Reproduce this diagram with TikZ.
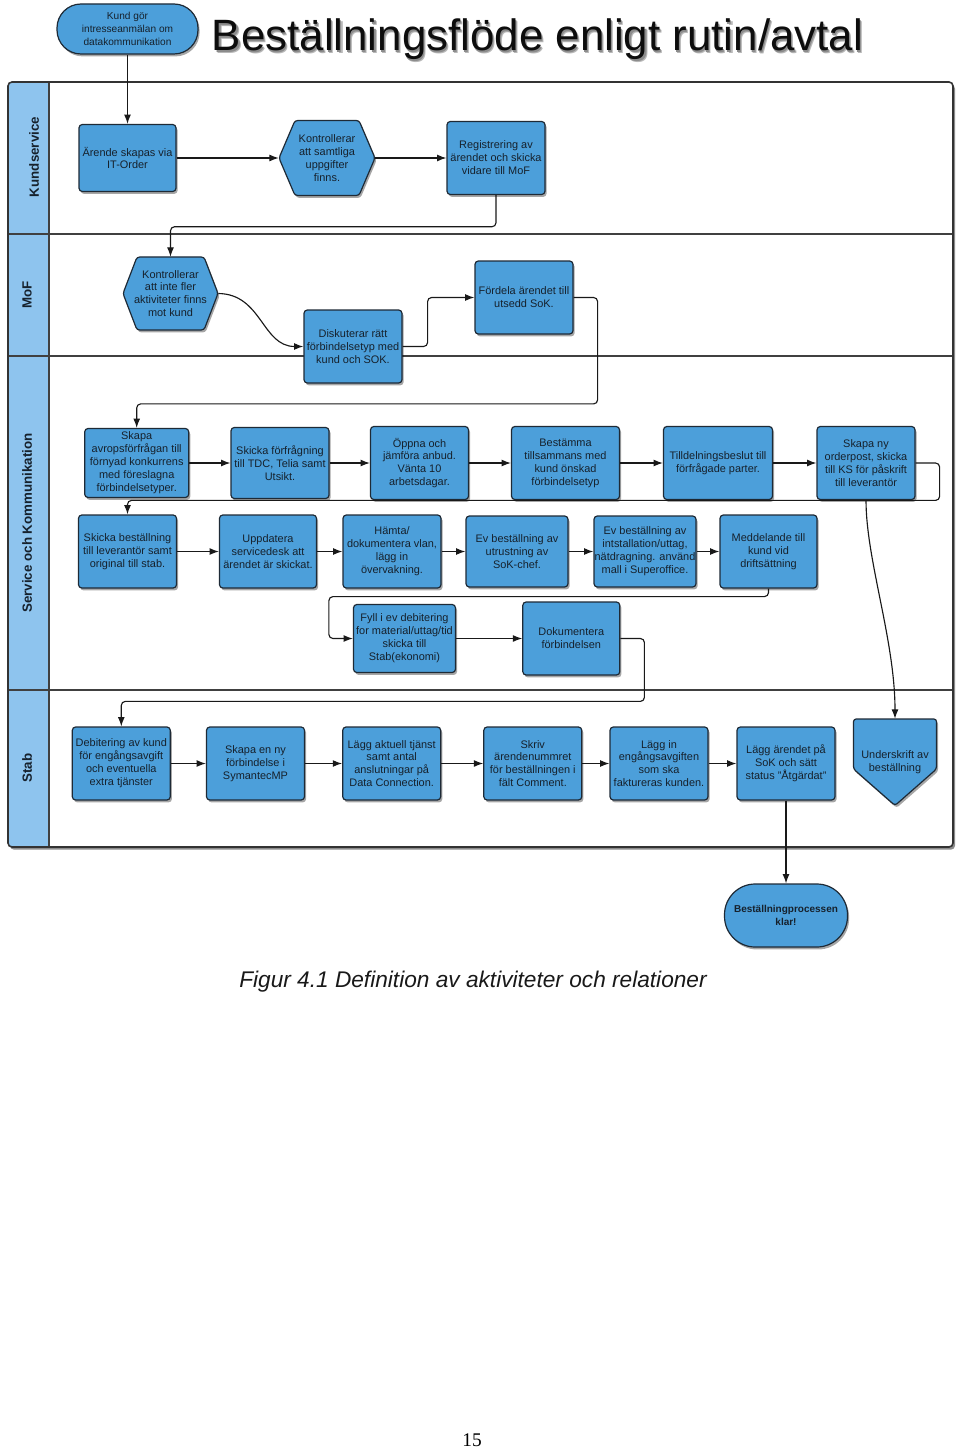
\documentclass[tikz,border=0pt]{standalone}
\usepackage{fontspec}
\setmainfont{Liberation Sans}
\newfontfamily\pgserif{Liberation Serif}
\usetikzlibrary{arrows.meta,shadows,calc}
\definecolor{boxblue}{HTML}{4C9FDA}
\definecolor{lanebl}{HTML}{8EC4EE}
\definecolor{bdr}{HTML}{1E2A36}
\definecolor{txt}{HTML}{16212C}
\newcommand{\bfnt}{\fontsize{8.2}{9.7}\selectfont}
\newcommand{\titletext}{Beställningsflöde enligt rutin/avtal}
\newcommand{\hexpath}[5]{%
  \path[hexsty] ({#1-#3/2},#2) -- ({#1-#3/2+#5},{#2-#4/2}) -- ({#1+#3/2-#5},{#2-#4/2}) -- ({#1+#3/2},#2) -- ({#1+#3/2-#5},{#2+#4/2}) -- ({#1-#3/2+#5},{#2+#4/2}) -- cycle;}
\begin{document}
\begin{tikzpicture}[x=0.75pt,y=-0.75pt,
  shd/.style={drop shadow={shadow xshift=1.2pt, shadow yshift=-1.8pt, opacity=0.35, fill=black}},
  sz/.style 2 args={minimum width=#1*0.75pt, minimum height=#2*0.75pt},
  proc/.style={draw=bdr, fill=boxblue, line width=0.9pt, rounded corners=2.5pt, inner sep=0pt, align=center, font=\bfnt, text=txt, sz={98}{73}, shd},
  hexsty/.style={draw=bdr, fill=boxblue, line width=0.9pt, rounded corners=2pt, shd},
  hexn/.style={inner sep=0pt, align=center, font=\bfnt, text=txt},
  term/.style={draw=bdr, fill=boxblue, line width=0.9pt, inner sep=0pt, align=center, text=txt, shd},
  arr/.style={-{Latex[length=7pt,width=5.2pt]}, line width=0.85pt, draw=black!90, rounded corners=3pt},
  lanelbl/.style={rotate=90, font=\bfseries\fontsize{10}{12}\selectfont, text=txt}]
\useasboundingbox (0,0) rectangle (960,1448);
\fill[white] (0,0) rectangle (960,1448);

% title with its soft shadow
\node[anchor=base, font=\fontsize{32.9}{38}\selectfont, text=black!95] (title) at (537.5,51)
  {\makebox[0pt][l]{\hspace{1.6pt}\raisebox{-2pt}{\color{black!28}\titletext}}\makebox[0pt][l]{\hspace{0.8pt}\raisebox{-1pt}{\color{black!45}\titletext}}\titletext};

% swimlane frame
\path[fill=white, rounded corners=3pt, drop shadow={shadow xshift=1.5pt, shadow yshift=-2pt, opacity=0.45, fill=black}] (8,82) rectangle (953,847);
\fill[lanebl, rounded corners=3pt] (8,82) rectangle (49,847);
\fill[lanebl] (30,82) rectangle (49,847);
\draw[black!75, line width=0.9pt] (49,82) -- (49,847);
\draw[black!75, line width=0.9pt] (8,234) -- (953,234);
\draw[black!75, line width=0.9pt] (8,356) -- (953,356);
\draw[black!75, line width=0.9pt] (8,690) -- (953,690);
\draw[black!80, line width=1.2pt, rounded corners=3pt] (8,82) rectangle (953,847);

\node[lanelbl] (lk) at (34,157) {Kundservice};
\node[lanelbl] (lm) at (27,295) {MoF};
\node[lanelbl] (ls) at (27,523) {Service och Kommunikation};
\node[lanelbl] (lst) at (27,768) {Stab};

% start
\node[term, sz={141}{50}, rounded corners=18pt, font=\fontsize{7.6}{9.7}\selectfont] (S) at (127.5,29) {Kund gör\\intresseanmälan om\\datakommunikation};

% Kundservice
\node[proc, sz={97}{67}] (A1) at (127.5,158) {Ärende skapas via\\IT-Order};
\hexpath{327}{158}{96}{75}{16}
\node[hexn, sz={96}{75}] (A2) at (327,158) {Kontrollerar\\att samtliga\\uppgifter\\finns.};
\node[proc] (A3) at (496,158) {Registrering av\\ärendet och skicka\\vidare till MoF};

% MoF
\hexpath{170.5}{293.5}{95}{73}{14}
\node[hexn, sz={95}{73}] (B1) at (170.5,293.5) {Kontrollerar\\att inte fler\\aktiviteter finns\\mot kund};
\node[proc] (B2) at (353,346.5) {Diskuterar rätt\\förbindelsetyp med\\kund och SOK.};
\node[proc] (B3) at (524,297.5) {Fördela ärendet till\\utsedd SoK.};

% Service row 1
\node[proc, sz={104}{69}] (C1) at (136.7,463) {Skapa\\avropsförfrågan till\\förnyad konkurrens\\med föreslagna\\förbindelsetyper.};
\node[proc, sz={98}{71}] (C2) at (280,463) {Skicka förfrågning\\till TDC, Telia samt\\Utsikt.};
\node[proc, sz={98}{73}] (C3) at (419.5,463) {Öppna och\\jämföra anbud.\\Vänta 10\\arbetsdagar.};
\node[proc, sz={108}{73}] (C4) at (565.5,463) {Bestämma\\tillsammans med\\kund önskad\\förbindelsetyp};
\node[proc, sz={109}{73}] (C5) at (718,463) {Tilldelningsbeslut till\\förfrågade parter.};
\node[proc] (C6) at (866,463) {Skapa ny\\orderpost, skicka\\till KS för påskrift\\till leverantör};

% Service row 2
\node[proc] (D1) at (127.5,551.5) {Skicka beställning\\till leverantör samt\\original till stab.};
\node[proc, sz={97}{73}] (D2) at (268,551.5) {Uppdatera\\servicedesk att\\ärendet är skickat.};
\node[proc] (D3) at (392,551.5) {Hämta/\\dokumentera vlan,\\lägg in\\övervakning.};
\node[proc, sz={102}{71}] (D4) at (517,551.5) {Ev beställning av\\utrustning av\\SoK-chef.};
\node[proc, sz={102}{71}] (D5) at (645,551.5) {Ev beställning av\\intstallation/uttag,\\nätdragning. använd\\mall i Superoffice.};
\node[proc, sz={97}{73}] (D6) at (768.5,551.5) {Meddelande till\\kund vid\\driftsättning};

% Service row 3
\node[proc, sz={102}{68}] (E1) at (404.5,638.5) {Fyll i ev debitering\\for material/uttag/tid\\skicka till\\Stab(ekonomi)};
\node[proc, sz={97}{73}] (E2) at (571.3,638.5) {Dokumentera\\förbindelsen};

% Stab
\node[proc] (F1) at (121.3,763.5) {Debitering av kund\\för engångsavgift\\och eventuella\\extra tjänster};
\node[proc] (F2) at (255.5,763.5) {Skapa en ny\\förbindelse i\\SymantecMP};
\node[proc] (F3) at (391.7,763.5) {Lägg aktuell tjänst\\samt antal\\anslutningar på\\Data Connection.};
\node[proc] (F4) at (532.8,763.5) {Skriv\\ärendenummret\\för beställningen i\\fält Comment.};
\node[proc] (F5) at (659,763.5) {Lägg in\\engångsavgiften\\som ska\\faktureras kunden.};
\node[proc] (F6) at (786,763.5) {Lägg ärendet på\\SoK och sätt\\status "Åtgärdat"};
\path[hexsty] (853.5,719) -- (936.5,719) -- (936.5,769) -- (895,805.5) -- (853.5,769) -- cycle;
\node[hexn, sz={83}{86.5}] (F7) at (895,762.25) {Underskrift av\\beställning};

% end
\node[term, sz={123}{63}, rounded corners=23pt, font=\bfseries\fontsize{7.5}{9.5}\selectfont] (E) at (786,915.5) {Beställningprocessen\\klar!};

% connectors
\draw[arr] (S.south) -- (A1.north);
\draw[arr] (A1.east) -- (A2.west);
\draw[arr] (A2.east) -- (A3.west);
\draw[arr] (A3.south) |- ($(B1.north)+(0,-30)$) -- (B1.north);
\draw[arr] (B1.east) .. controls (262,294) and (262,346.5) .. (B2.west);
\draw[arr] (B2.east) -- ++(25,0) |- (B3.west);
\draw[arr] (B3.east) -- ++(24,0) |- ($(C1.north)+(0,-24)$) -- (C1.north);
\draw[arr] (C1.east) -- (C2.west);
\draw[arr] (C2.east) -- (C3.west);
\draw[arr] (C3.east) -- (C4.west);
\draw[arr] (C4.east) -- (C5.west);
\draw[arr] (C5.east) -- (C6.west);
\draw[arr] (C6.east) -- ++(24,0) |- ($(D1.north)+(0,-14)$) -- (D1.north);
\draw[arr] (C6.south) .. controls (866,560) and (895,640) .. (F7.north);
\draw[arr] (D1.east) -- (D2.west);
\draw[arr] (D2.east) -- (D3.west);
\draw[arr] (D3.east) -- (D4.west);
\draw[arr] (D4.east) -- (D5.west);
\draw[arr] (D5.east) -- (D6.west);
\draw[arr] (D6.south) -- ++(0,8) -| ($(E1.west)+(-24,0)$) -- (E1.west);
\draw[arr] (E1.east) -- (E2.west);
\draw[arr] (E2.east) -- ++(24,0) |- ($(F1.north)+(0,-25)$) -- (F1.north);
\draw[arr] (F1.east) -- (F2.west);
\draw[arr] (F2.east) -- (F3.west);
\draw[arr] (F3.east) -- (F4.west);
\draw[arr] (F4.east) -- (F5.west);
\draw[arr] (F5.east) -- (F6.west);
\draw[arr] (F6.south) -- (E.north);

% caption and page number
\node[anchor=base, font=\itshape\fontsize{17}{20}\selectfont, text=black!90] (cap) at (473,987) {Figur 4.1 Definition av aktiviteter och relationer};
\node[anchor=base, font=\pgserif\fontsize{14.5}{16}\selectfont] (pg) at (472,1446) {15};
\end{tikzpicture}
\end{document}
